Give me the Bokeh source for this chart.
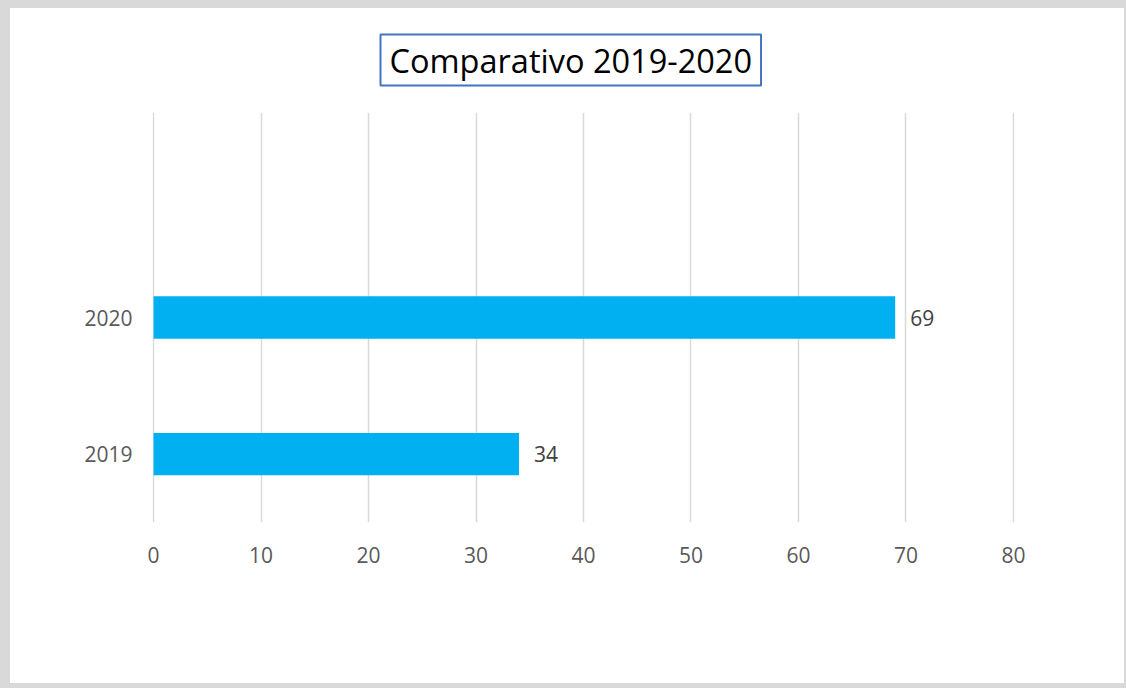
from bokeh.plotting import figure
from bokeh.models import FactorRange, Range1d, FixedTicker, ColumnDataSource
from bokeh.core.properties import value
from bokeh.embed import file_html
from bokeh.resources import INLINE

# ---- data ----
title_text = "Comparativo 2019-2020"
categories = ["2019", "2020"]
values = [34, 69]
empty_slot = [" "]
x_ticks = [0, 10, 20, 30, 40, 50, 60, 70, 80]

FONT = "Open Sans"
W, H = 1126, 688

source = ColumnDataSource(data=dict(cat=categories, val=values,
                                    lab=[str(v) for v in values]))

p = figure(width=W, height=H, output_backend="svg", toolbar_location=None,
           y_range=FactorRange(factors=categories + empty_slot),
           x_range=Range1d(-0.1, 80.1),
           min_border_left=142, min_border_right=122,
           min_border_top=104, min_border_bottom=174)
p.outline_line_color = None
p.background_fill_color = "white"
p.border_fill_color = "white"
p.styles = {"border-style": "solid", "border-color": "#D9D9D9",
            "border-width": "8px 2px 5px 10px"}

p.title.text = title_text
p.title.align = "left"
p.title.vertical_align = "top"
p.title.text_font = FONT
p.title.text_font_size = "32.5px"
p.title.text_font_style = "normal"
p.title.text_color = "black"
p.title.border_line_color = "#4472C4"
p.title.border_line_width = 2
p.title.padding = (9, 3)
p.title.offset = 228
p.title.standoff = 50

p.hbar(y="cat", right="val", left=0, height=0.31, source=source,
       fill_color="#00B0F0", line_color=None)
p.text(x="val", y="cat", text="lab", source=source, x_offset=15,
       text_baseline="middle", text_align="left",
       text_font=value(FONT), text_font_size="21px", text_color="#404040")

# axes
p.xaxis.ticker = FixedTicker(ticks=x_ticks)
for ax in (p.xaxis[0], p.yaxis[0]):
    ax.axis_line_color = None
    ax.major_tick_line_color = None
    ax.minor_tick_line_color = None
    ax.major_tick_out = 0
    ax.major_tick_in = 0
    ax.major_label_text_font = FONT
    ax.major_label_text_font_size = "21px"
    ax.major_label_text_color = "#595959"
p.xaxis.major_label_standoff = 24
p.yaxis.major_label_standoff = 20

p.xgrid.grid_line_color = "#D9D9D9"
p.xgrid.grid_line_width = 1.5
p.ygrid.grid_line_color = None

open("out.html", "w").write(file_html(p, INLINE))
